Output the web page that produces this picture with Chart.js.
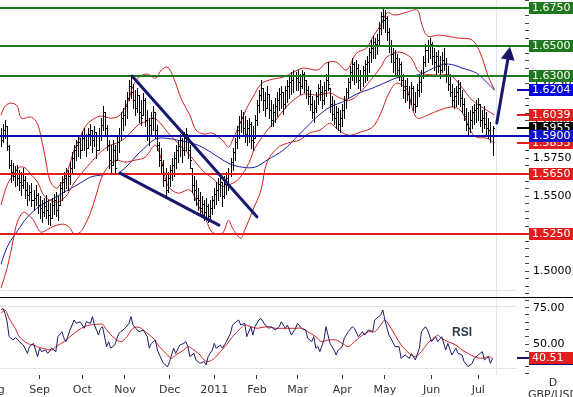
<!DOCTYPE html>
<html>
<head>
<meta charset="utf-8">
<script src="https://cdn.jsdelivr.net/npm/chart.js@4.4.1/dist/chart.umd.min.js"></script>
<style>
  html, body { margin: 0; padding: 0; background: #fff; }
  #wrap { position: relative; width: 573px; height: 397px; overflow: hidden; }
  #priceChart { position: absolute; left: 0; top: 0; }
  #rsiChart { position: absolute; left: 0; top: 297px; }
</style>
</head>
<body>
<div id="wrap">
  <canvas id="priceChart" width="573" height="297"></canvas>
  <canvas id="rsiChart" width="573" height="100"></canvas>
</div>
<script>
// GBP/USD daily bars, one entry per trading day (Aug 2010 - Jul 2011)
const highs = [
  1.5952,1.5979,1.6005,1.5965,1.5839,1.5739,1.5719,1.5699,1.5706,1.5673,
  1.5659,1.5686,1.5633,1.5593,1.5573,1.5586,1.5540,1.5573,1.5520,1.5500,
  1.5473,1.5486,1.5506,1.5473,1.5453,1.5486,1.5513,1.5526,1.5500,1.5593,
  1.5633,1.5659,1.5686,1.5673,1.5726,1.5792,1.5839,1.5872,1.5899,1.5885,
  1.5925,1.5952,1.5912,1.5952,1.5979,1.5939,1.5965,1.5925,1.5952,1.6018,
  1.6098,1.6058,1.5972,1.5872,1.5839,1.5872,1.5839,1.5905,1.5952,1.6058,
  1.6085,1.6138,1.6191,1.6271,1.6298,1.6244,1.6205,1.6218,1.6171,1.6138,
  1.6185,1.6151,1.6072,1.6018,1.6058,1.6098,1.6058,1.5972,1.5859,1.5819,
  1.5739,1.5686,1.5659,1.5706,1.5752,1.5792,1.5839,1.5872,1.5912,1.5885,
  1.5925,1.5952,1.5905,1.5839,1.5686,1.5633,1.5606,1.5553,1.5526,1.5500,
  1.5473,1.5486,1.5446,1.5473,1.5500,1.5553,1.5593,1.5619,1.5633,1.5593,
  1.5633,1.5659,1.5686,1.5752,1.5819,1.5885,1.5965,1.6032,1.6072,1.6058,
  1.6032,1.6005,1.6018,1.5992,1.5965,1.6038,1.6138,1.6205,1.6271,1.6218,
  1.6191,1.6231,1.6178,1.6138,1.6112,1.6151,1.6191,1.6218,1.6231,1.6191,
  1.6231,1.6271,1.6298,1.6324,1.6338,1.6324,1.6338,1.6311,1.6338,1.6324,
  1.6271,1.6231,1.6205,1.6165,1.6138,1.6191,1.6244,1.6271,1.6231,1.6258,
  1.6311,1.6391,1.6218,1.6165,1.6138,1.6098,1.6085,1.6072,1.6112,1.6165,
  1.6218,1.6284,1.6364,1.6417,1.6391,1.6404,1.6377,1.6338,1.6364,1.6404,
  1.6431,1.6484,1.6537,1.6564,1.6550,1.6577,1.6657,1.6723,1.6756,1.6736,
  1.6697,1.6617,1.6537,1.6484,1.6470,1.6444,1.6417,1.6391,1.6311,1.6271,
  1.6284,1.6231,1.6258,1.6231,1.6191,1.6244,1.6298,1.6338,1.6431,1.6510,
  1.6537,1.6550,1.6524,1.6484,1.6457,1.6470,1.6431,1.6457,1.6484,1.6417,
  1.6364,1.6311,1.6244,1.6218,1.6231,1.6271,1.6258,1.6205,1.6151,1.6085,
  1.6058,1.6072,1.6098,1.6112,1.6138,1.6151,1.6112,1.6072,1.6098,1.6058,
  1.6018,1.5992,1.5965
];
const lows = [
  1.5832,1.5859,1.5885,1.5806,1.5686,1.5593,1.5606,1.5566,1.5573,1.5540,
  1.5506,1.5553,1.5486,1.5440,1.5473,1.5433,1.5406,1.5440,1.5387,1.5353,
  1.5327,1.5367,1.5353,1.5313,1.5307,1.5353,1.5380,1.5367,1.5340,1.5440,
  1.5473,1.5526,1.5553,1.5540,1.5579,1.5646,1.5686,1.5739,1.5766,1.5752,
  1.5806,1.5806,1.5766,1.5819,1.5839,1.5792,1.5832,1.5752,1.5806,1.5872,
  1.5939,1.5905,1.5806,1.5686,1.5659,1.5706,1.5659,1.5739,1.5792,1.5872,
  1.5939,1.5972,1.6018,1.6138,1.6151,1.6085,1.6038,1.6058,1.5992,1.5972,
  1.6038,1.5965,1.5872,1.5839,1.5905,1.5939,1.5885,1.5806,1.5699,1.5659,
  1.5566,1.5500,1.5526,1.5566,1.5606,1.5633,1.5686,1.5726,1.5766,1.5726,
  1.5772,1.5806,1.5752,1.5686,1.5526,1.5473,1.5440,1.5406,1.5380,1.5367,
  1.5340,1.5353,1.5327,1.5353,1.5380,1.5420,1.5446,1.5473,1.5500,1.5433,
  1.5486,1.5513,1.5540,1.5633,1.5673,1.5739,1.5819,1.5885,1.5925,1.5899,
  1.5859,1.5839,1.5859,1.5819,1.5806,1.5885,1.5972,1.6058,1.6138,1.6072,
  1.6032,1.6085,1.6018,1.5965,1.5965,1.5992,1.6032,1.6072,1.6085,1.6045,
  1.6085,1.6125,1.6151,1.6178,1.6191,1.6205,1.6205,1.6178,1.6218,1.6191,
  1.6151,1.6112,1.6072,1.6018,1.5992,1.6058,1.6112,1.6138,1.6085,1.6112,
  1.6165,1.6205,1.6058,1.6005,1.5979,1.5952,1.5939,1.5925,1.5965,1.6018,
  1.6085,1.6151,1.6218,1.6271,1.6244,1.6258,1.6218,1.6205,1.6231,1.6258,
  1.6271,1.6324,1.6391,1.6417,1.6417,1.6444,1.6510,1.6577,1.6617,1.6590,
  1.6537,1.6457,1.6391,1.6324,1.6311,1.6298,1.6271,1.6231,1.6151,1.6125,
  1.6138,1.6085,1.6112,1.6072,1.6058,1.6098,1.6165,1.6191,1.6284,1.6364,
  1.6391,1.6417,1.6377,1.6338,1.6311,1.6324,1.6284,1.6324,1.6338,1.6258,
  1.6205,1.6165,1.6098,1.6085,1.6098,1.6112,1.6098,1.6058,1.6005,1.5939,
  1.5912,1.5925,1.5952,1.5979,1.5992,1.6005,1.5965,1.5925,1.5952,1.5912,
  1.5885,1.5859,1.5772
];
const closes = [
  1.5872,1.5939,1.5965,1.5832,1.5706,1.5659,1.5633,1.5673,1.5619,1.5593,
  1.5573,1.5606,1.5540,1.5506,1.5526,1.5473,1.5486,1.5506,1.5440,1.5420,
  1.5393,1.5433,1.5406,1.5373,1.5353,1.5440,1.5473,1.5406,1.5440,1.5553,
  1.5593,1.5619,1.5646,1.5633,1.5686,1.5752,1.5806,1.5839,1.5859,1.5806,
  1.5885,1.5905,1.5819,1.5912,1.5939,1.5872,1.5925,1.5806,1.5905,1.5972,
  1.6058,1.5952,1.5839,1.5739,1.5706,1.5806,1.5686,1.5859,1.5905,1.6018,
  1.6038,1.6098,1.6151,1.6231,1.6191,1.6138,1.6085,1.6171,1.6058,1.6018,
  1.6138,1.6005,1.5905,1.5972,1.6018,1.6058,1.5939,1.5839,1.5739,1.5706,
  1.5606,1.5540,1.5619,1.5673,1.5706,1.5752,1.5806,1.5832,1.5872,1.5806,
  1.5885,1.5912,1.5806,1.5739,1.5573,1.5540,1.5486,1.5473,1.5420,1.5446,
  1.5393,1.5433,1.5367,1.5420,1.5473,1.5513,1.5540,1.5579,1.5593,1.5500,
  1.5579,1.5619,1.5646,1.5726,1.5792,1.5859,1.5939,1.5992,1.6018,1.5952,
  1.5912,1.5952,1.5979,1.5872,1.5859,1.6005,1.6105,1.6171,1.6218,1.6138,
  1.6085,1.6178,1.6072,1.6005,1.6058,1.6098,1.6138,1.6178,1.6191,1.6112,
  1.6205,1.6231,1.6258,1.6271,1.6298,1.6284,1.6258,1.6231,1.6311,1.6271,
  1.6205,1.6165,1.6112,1.6058,1.6085,1.6165,1.6218,1.6191,1.6138,1.6205,
  1.6271,1.6244,1.6112,1.6045,1.6018,1.6058,1.5979,1.6018,1.6072,1.6138,
  1.6191,1.6258,1.6324,1.6377,1.6298,1.6351,1.6271,1.6298,1.6338,1.6377,
  1.6391,1.6457,1.6484,1.6524,1.6510,1.6537,1.6617,1.6697,1.6670,1.6683,
  1.6590,1.6497,1.6444,1.6391,1.6417,1.6338,1.6377,1.6271,1.6205,1.6231,
  1.6178,1.6138,1.6218,1.6112,1.6098,1.6205,1.6258,1.6298,1.6391,1.6470,
  1.6497,1.6510,1.6431,1.6391,1.6431,1.6364,1.6338,1.6404,1.6377,1.6298,
  1.6244,1.6191,1.6138,1.6165,1.6191,1.6218,1.6151,1.6112,1.6032,1.5979,
  1.5952,1.6005,1.6058,1.6072,1.6085,1.6112,1.6005,1.6018,1.5979,1.5952,
  1.5939,1.5899,1.5955
];

// Bollinger bands and moving average, read at the bar index shown
const bbUpperIdx = [0,2,5,8,10,15,18,20,22,24,27,29,32,34,36,39,41,44,49,54,58,61,63,65,68,72,76,79,82,85,89,93,96,100,104,109,112,114,118,121,124,128,132,139,144,149,156,160,165,170,175,180,183,187,190,194,200,205,207,210,216,225,232,236,240,243];
const bbUpper = [1.6038,1.6098,1.6118,1.6098,1.6018,1.6025,1.5979,1.5872,1.5739,1.5606,1.5553,1.5573,1.5639,1.5719,1.5806,1.5892,1.5952,1.5998,1.6032,1.6018,1.6032,1.6085,1.6145,1.6231,1.6291,1.6311,1.6284,1.6338,1.6357,1.6284,1.6138,1.6038,1.5939,1.5912,1.5919,1.5872,1.5826,1.5872,1.5992,1.6085,1.6158,1.6244,1.6271,1.6291,1.6324,1.6351,1.6338,1.6384,1.6391,1.6338,1.6450,1.6484,1.6557,1.6637,1.6717,1.6703,1.6723,1.6736,1.6650,1.6564,1.6570,1.6550,1.6537,1.6450,1.6291,1.6205];
const bbMidIdx = [0,3,7,9,12,15,18,21,24,28,32,35,37,41,44,49,54,57,61,65,68,72,74,77,82,87,92,97,100,104,109,112,117,122,125,129,132,136,140,144,149,156,162,167,172,177,182,187,190,196,202,206,215,221,226,232,239,243];
const bbMid = [1.5440,1.5573,1.5659,1.5692,1.5686,1.5639,1.5593,1.5506,1.5473,1.5460,1.5500,1.5566,1.5606,1.5673,1.5719,1.5792,1.5839,1.5852,1.5885,1.5939,1.5979,1.5998,1.6018,1.6005,1.5925,1.5852,1.5786,1.5706,1.5659,1.5619,1.5566,1.5573,1.5613,1.5719,1.5819,1.5899,1.5952,1.6018,1.6085,1.6138,1.6178,1.6171,1.6185,1.6151,1.6138,1.6191,1.6271,1.6357,1.6424,1.6457,1.6417,1.6324,1.6304,1.6304,1.6238,1.6138,1.6072,1.6039];
const bbLowerIdx = [0,3,6,8,11,13,16,18,20,26,31,34,36,39,41,44,47,50,54,57,61,66,71,76,79,82,87,93,97,101,104,109,112,114,118,120,124,128,131,136,141,147,152,157,162,165,171,177,183,187,191,195,200,202,205,210,216,223,227,231,234,239,243];
const bbLower = [1.4888,1.5021,1.5207,1.5327,1.5393,1.5380,1.5340,1.5287,1.5260,1.5300,1.5313,1.5287,1.5247,1.5260,1.5300,1.5387,1.5513,1.5639,1.5712,1.5739,1.5726,1.5739,1.5759,1.5839,1.5739,1.5573,1.5520,1.5540,1.5440,1.5340,1.5260,1.5254,1.5340,1.5287,1.5220,1.5274,1.5406,1.5540,1.5726,1.5819,1.5852,1.5872,1.5919,1.5939,1.5985,1.5952,1.5905,1.5925,1.5959,1.6052,1.6185,1.6251,1.6205,1.6105,1.6018,1.6038,1.6072,1.6092,1.6058,1.5939,1.5892,1.5885,1.5853];
const maIdx = [0,2,4,8,13,19,26,32,39,44,49,54,57,62,66,70,76,81,87,94,100,107,113,119,125,131,139,147,156,162,168,175,183,192,196,203,208,213,218,223,227,234,239,243];
const maVals = [1.5047,1.5127,1.5187,1.5267,1.5360,1.5433,1.5486,1.5533,1.5586,1.5626,1.5639,1.5646,1.5646,1.5699,1.5759,1.5812,1.5879,1.5885,1.5872,1.5852,1.5819,1.5759,1.5712,1.5692,1.5692,1.5739,1.5806,1.5912,1.6032,1.6092,1.6125,1.6178,1.6218,1.6271,1.6291,1.6298,1.6318,1.6351,1.6377,1.6371,1.6351,1.6318,1.6258,1.6204];

// RSI and its average
const rsiIdx = [0,1,2,3,4,6,7,8,9,11,13,14,16,18,19,20,22,23,25,27,28,30,31,32,34,36,37,39,41,42,44,45,46,48,49,50,52,53,54,56,58,59,61,63,64,65,67,68,70,72,73,74,76,77,78,80,82,83,85,86,88,90,91,92,93,95,96,98,100,101,102,104,105,106,108,109,111,113,114,117,118,120,121,123,124,125,127,128,
  130,132,133,135,137,138,140,141,143,145,146,148,150,151,153,154,155,156,157,159,160,162,164,165,166,168,169,171,173,174,176,178,179,181,183,184,186,187,188,189,191,192,194,196,197,199,201,202,204,206,207,209,210,212,214,215,217,219,220,222,224,225,227,228,230,232,233,235,237,238,240,241,242];
const rsiVals = [73.4,74.5,71.1,65.4,55.2,52.9,54.5,53.6,51.8,49.5,43.8,48.4,50.6,41.6,47.3,45.0,46.1,43.8,47.3,45.0,55.2,58.6,54.1,51.8,59.8,66.6,64.3,65.4,60.9,65.4,64.3,68.9,63.2,56.3,60.9,62.0,48.4,51.8,47.3,49.5,57.5,58.6,60.9,64.3,68.9,63.2,59.8,58.6,59.8,55.2,47.3,50.6,52.9,46.1,42.7,37.0,34.7,38.2,47.3,43.8,49.5,50.6,51.8,48.4,41.6,43.8,39.3,37.0,38.2,35.9,41.6,46.1,50.6,47.3,49.5,47.3,51.8,57.5,63.2,66.6,63.2,64.3,55.2,62.0,56.3,62.0,66.6,67.7,
  63.2,60.9,62.0,59.8,62.0,65.4,60.9,63.2,56.3,60.9,64.3,60.9,59.8,54.1,51.8,55.2,47.3,48.4,45.0,52.9,62.0,50.6,46.1,42.7,46.1,48.4,54.1,58.6,62.0,60.9,55.2,58.6,56.3,59.8,58.6,66.6,68.9,70.0,73.4,66.6,56.3,54.1,48.4,48.4,40.4,42.7,40.4,43.8,39.3,47.3,58.6,62.0,59.8,51.8,55.2,51.8,55.2,46.1,50.6,42.7,47.3,43.8,42.7,38.2,34.7,37.0,40.4,42.7,45.0,39.3,41.6,37.0,40.4];
const rsiMaIdx = [0,2,4,7,9,13,16,19,22,25,27,31,34,37,41,44,47,50,52,55,59,62,65,68,72,75,78,82,84,86,90,92,95,98,100,102,105,108,111,114,118,120,123,126,128,
  132,135,138,141,145,148,151,155,158,161,165,168,171,174,178,181,184,187,189,191,194,197,201,204,207,210,214,215,217,220,224,227,230,233,237,240,242];
const rsiMaVals = [71.1,73.4,67.7,60.9,55.2,50.6,49.5,47.7,46.8,46.1,48.4,51.8,55.2,58.6,62.0,63.2,63.6,63.6,59.8,55.2,51.8,55.2,60.9,61.6,57.5,54.1,48.4,42.7,40.4,42.7,46.1,48.4,46.1,42.7,39.3,38.2,40.4,45.0,49.5,55.2,60.9,63.2,62.0,60.9,61.4,
  62.0,60.9,60.9,60.9,60.9,60.9,58.6,55.2,51.8,52.9,52.9,50.6,48.4,51.8,56.3,58.6,58.6,63.2,66.6,63.2,56.3,49.5,43.8,41.6,45.0,50.6,55.2,56.3,54.1,51.8,49.5,46.1,43.8,41.6,40.4,41.6,40.51];

// time axis: first bar of each month
const monthIdx = [-3.5, 19, 40, 61, 83, 105, 126, 146, 168, 189, 212, 235];
const monthLabels = ['Aug', 'Sep', 'Oct', 'Nov', 'Dec', '2011', 'Feb', 'Mar', 'Apr', 'May', 'Jun', 'Jul'];

// support / resistance levels
const greenLevels = [1.6750, 1.6500, 1.6300];
const blueLevels = [1.5900];
const redLevels = [1.5650, 1.5250];

// trend lines [idx0, price0, idx1, price1]
const trendLines = [[64.5, 1.6298, 126, 1.5362], [58.6, 1.5653, 107.3, 1.5307]];
const arrowLine = [244.1, 1.5985, 250.6, 1.6492];

const X_MIN = -0.5, X_MAX = 258;
const P_MIN = 1.48294, P_MAX = 1.68032;
const R_MIN = 29.04, R_MAX = 81.6;
const TODAY_IDX = 243.7;
const PRICE_FRAME = 1.4877;
const RSI_FRAME = [76.3, 34.0];

const FONT = '"DejaVu Sans", Verdana, sans-serif';
Chart.defaults.font.family = FONT;

const RED = '#e21d1d', GREEN = '#1e781e', BLUE = '#0c0cb0', NAVY = '#17176e';
const FRAME_COL = '#dde4ec';
const AXIS_W = 48, TAG_X = 529, STUB_X = 517, FRAME_R = 517;

const toPts = (idx, vals) => idx.map((v, k) => ({x: v, y: vals[k]}));

function lineSet(idx, vals, color, tension) {
  return { data: toPts(idx, vals), borderColor: color, borderWidth: 1, pointRadius: 0, tension: tension, fill: false };
}

function drawTag(ctx, yPix, text, fill, stub) {
  const yr = Math.round(yPix);
  if (stub) {
    ctx.fillStyle = stub;
    ctx.fillRect(STUB_X, yr - 1, TAG_X - STUB_X, 2);
  }
  ctx.fillStyle = fill;
  ctx.fillRect(TAG_X, yr - 6, 50, 12);
  ctx.fillStyle = '#fff';
  ctx.font = '11px ' + FONT;
  ctx.textBaseline = 'middle';
  ctx.textAlign = 'left';
  ctx.fillText(text, TAG_X + 3, yr + 0.5);
}

const pricePlugin = {
  id: 'priceDecor',
  beforeDatasetsDraw(chart) {
    const {ctx, chartArea: a, scales: {x, y}} = chart;
    ctx.save();
    ctx.fillStyle = FRAME_COL;
    ctx.fillRect(a.left, Math.round(y.getPixelForValue(PRICE_FRAME)), FRAME_R - a.left, 1);
    ctx.fillRect(Math.round(x.getPixelForValue(TODAY_IDX)), a.top, 1, a.bottom - a.top);
    ctx.restore();
  },
  afterDatasetsDraw(chart) {
    const {ctx, chartArea: a, scales: {x, y}} = chart;
    ctx.save();
    // OHLC bars (open tick at the previous close)
    ctx.fillStyle = '#000';
    for (let i = 0; i < highs.length; i++) {
      const px = Math.round(x.getPixelForValue(i));
      const yh = Math.round(y.getPixelForValue(highs[i]));
      const yl = Math.round(y.getPixelForValue(lows[i]));
      const yc = Math.round(y.getPixelForValue(closes[i]));
      ctx.fillRect(px, yh, 1, yl - yh + 1);
      ctx.fillRect(px + 1, yc, 1, 1);
      if (i > 0) {
        const yo = Math.round(y.getPixelForValue(Math.min(Math.max(closes[i - 1], lows[i]), highs[i])));
        ctx.fillRect(px - 1, yo, 1, 1);
      }
    }
    // horizontal levels
    const level = (v, c) => {
      ctx.fillStyle = c;
      ctx.fillRect(a.left, Math.round(y.getPixelForValue(v)) - 1, TAG_X - a.left, 2);
    };
    greenLevels.forEach(v => level(v, GREEN));
    blueLevels.forEach(v => level(v, BLUE));
    redLevels.forEach(v => level(v, RED));
    // trend lines
    ctx.strokeStyle = NAVY;
    ctx.lineWidth = 3;
    ctx.lineCap = 'round';
    trendLines.forEach(t => {
      ctx.beginPath();
      ctx.moveTo(x.getPixelForValue(t[0]), y.getPixelForValue(t[1]));
      ctx.lineTo(x.getPixelForValue(t[2]), y.getPixelForValue(t[3]));
      ctx.stroke();
    });
    // arrow
    const ax0 = x.getPixelForValue(arrowLine[0]), ay0 = y.getPixelForValue(arrowLine[1]);
    const ax1 = x.getPixelForValue(arrowLine[2]), ay1 = y.getPixelForValue(arrowLine[3]);
    const ang = Math.atan2(ay1 - ay0, ax1 - ax0);
    const hl = 13, hw = 7;
    const bx = ax1 - hl * Math.cos(ang), by = ay1 - hl * Math.sin(ang);
    ctx.beginPath();
    ctx.moveTo(ax0, ay0);
    ctx.lineTo(bx, by);
    ctx.stroke();
    ctx.fillStyle = NAVY;
    ctx.beginPath();
    ctx.moveTo(ax1, ay1);
    ctx.lineTo(bx + hw * Math.sin(ang), by - hw * Math.cos(ang));
    ctx.lineTo(bx - hw * Math.sin(ang), by + hw * Math.cos(ang));
    ctx.closePath();
    ctx.fill();
    // value tags on the right
    const lastClose = closes[closes.length - 1];
    drawTag(ctx, y.getPixelForValue(lastClose), lastClose.toFixed(4), '#000', '#000');
    const lastLow = bbLower[bbLower.length - 1];
    drawTag(ctx, y.getPixelForValue(lastLow), lastLow.toFixed(4), RED, RED);
    const lastMid = bbMid[bbMid.length - 1];
    drawTag(ctx, y.getPixelForValue(lastMid), lastMid.toFixed(4), RED, RED);
    const lastMa = maVals[maVals.length - 1];
    drawTag(ctx, y.getPixelForValue(lastMa), lastMa.toFixed(4), '#0000e0', BLUE);
    greenLevels.forEach(v => drawTag(ctx, y.getPixelForValue(v), v.toFixed(4), GREEN));
    blueLevels.forEach(v => drawTag(ctx, y.getPixelForValue(v), v.toFixed(4), '#1414c8'));
    redLevels.forEach(v => drawTag(ctx, y.getPixelForValue(v), v.toFixed(4), RED));
    ctx.restore();
  }
};

const rsiPlugin = {
  id: 'rsiDecor',
  beforeDatasetsDraw(chart) {
    const {ctx, chartArea: a, scales: {x, y}} = chart;
    ctx.save();
    ctx.fillStyle = '#000';
    ctx.fillRect(0, 0, chart.width, 1);
    ctx.fillStyle = FRAME_COL;
    RSI_FRAME.forEach(v => ctx.fillRect(a.left, Math.round(y.getPixelForValue(v)), FRAME_R - a.left, 1));
    ctx.fillRect(Math.round(x.getPixelForValue(TODAY_IDX)), a.top, 1, a.bottom - a.top);
    ctx.restore();
  },
  afterDatasetsDraw(chart) {
    const {ctx, scales: {x, y}} = chart;
    ctx.save();
    const lastRsi = rsiVals[rsiVals.length - 1];
    const lastMa = rsiMaVals[rsiMaVals.length - 1];
    const yr = Math.round(y.getPixelForValue(lastRsi));
    ctx.fillStyle = NAVY;
    ctx.fillRect(STUB_X, yr - 1, TAG_X - STUB_X, 2);
    ctx.fillRect(TAG_X, yr - 6, 50, 13);
    drawTag(ctx, y.getPixelForValue(lastMa), lastMa.toFixed(2), RED);
    // panel caption
    ctx.fillStyle = '#2d3a48';
    ctx.font = 'bold 12px "Liberation Sans", Arial, sans-serif';
    ctx.textAlign = 'center';
    ctx.textBaseline = 'middle';
    ctx.fillText('RSI', x.getPixelForValue(227), y.getPixelForValue(57.7));
    // period / symbol
    ctx.fillStyle = '#333';
    ctx.font = '11px ' + FONT;
    ctx.fillText('D', 553, 86);
    ctx.fillText('GBP/USD', 553, 98);
    ctx.restore();
  }
};

new Chart(document.getElementById('priceChart'), {
  type: 'line',
  data: {
    datasets: [
      lineSet(bbUpperIdx, bbUpper, '#cc2222', 0.35),
      lineSet(bbMidIdx, bbMid, '#cc2222', 0.35),
      lineSet(bbLowerIdx, bbLower, '#cc2222', 0.35),
      lineSet(maIdx, maVals, '#1c1cae', 0.35)
    ]
  },
  options: {
    responsive: false,
    animation: false,
    layout: { padding: 0 },
    plugins: { legend: { display: false }, tooltip: { enabled: false } },
    scales: {
      x: { type: 'linear', min: X_MIN, max: X_MAX, display: false },
      y: {
        position: 'right',
        min: P_MIN,
        max: P_MAX,
        afterFit: s => { s.width = AXIS_W; s.paddingTop = 0; s.paddingBottom = 0; },
        ticks: {
          stepSize: 0.005,
          autoSkip: false,
          includeBounds: false,
          maxTicksLimit: 100,
          padding: 4,
          color: '#000',
          font: { size: 11 },
          callback: v => (Math.round(v * 1000) % 25 === 0 ? v.toFixed(4) : '')
        },
        grid: { drawOnChartArea: false, tickLength: 4, color: '#444' },
        border: { display: false }
      }
    }
  },
  plugins: [pricePlugin]
});

new Chart(document.getElementById('rsiChart'), {
  type: 'line',
  data: {
    datasets: [
      lineSet(rsiIdx, rsiVals, '#1b1b6b', 0),
      lineSet(rsiMaIdx, rsiMaVals, '#d42020', 0.35)
    ]
  },
  options: {
    responsive: false,
    animation: false,
    layout: { padding: { top: 1 } },
    plugins: { legend: { display: false }, tooltip: { enabled: false } },
    scales: {
      x: {
        type: 'linear',
        min: X_MIN,
        max: X_MAX,
        afterBuildTicks: s => { s.ticks = monthIdx.map(v => ({ value: v })); },
        afterFit: s => { s.height = 22; s.paddingLeft = 0; s.paddingRight = 0; },
        ticks: {
          autoSkip: false,
          maxRotation: 0,
          padding: 5,
          color: '#333',
          font: { size: 11 },
          callback: (v, i) => monthLabels[i]
        },
        grid: { drawOnChartArea: false, tickLength: 4, color: '#333' },
        border: { display: false }
      },
      y: {
        position: 'right',
        min: R_MIN,
        max: R_MAX,
        afterFit: s => { s.width = AXIS_W; s.paddingTop = 0; s.paddingBottom = 0; },
        ticks: {
          stepSize: 5,
          autoSkip: false,
          includeBounds: false,
          padding: 4,
          color: '#000',
          font: { size: 11 },
          callback: v => (v === 75 || v === 50 ? v.toFixed(2) : '')
        },
        grid: { drawOnChartArea: false, tickLength: 4, color: '#444' },
        border: { display: false }
      }
    }
  },
  plugins: [rsiPlugin]
});
</script>
</body>
</html>
